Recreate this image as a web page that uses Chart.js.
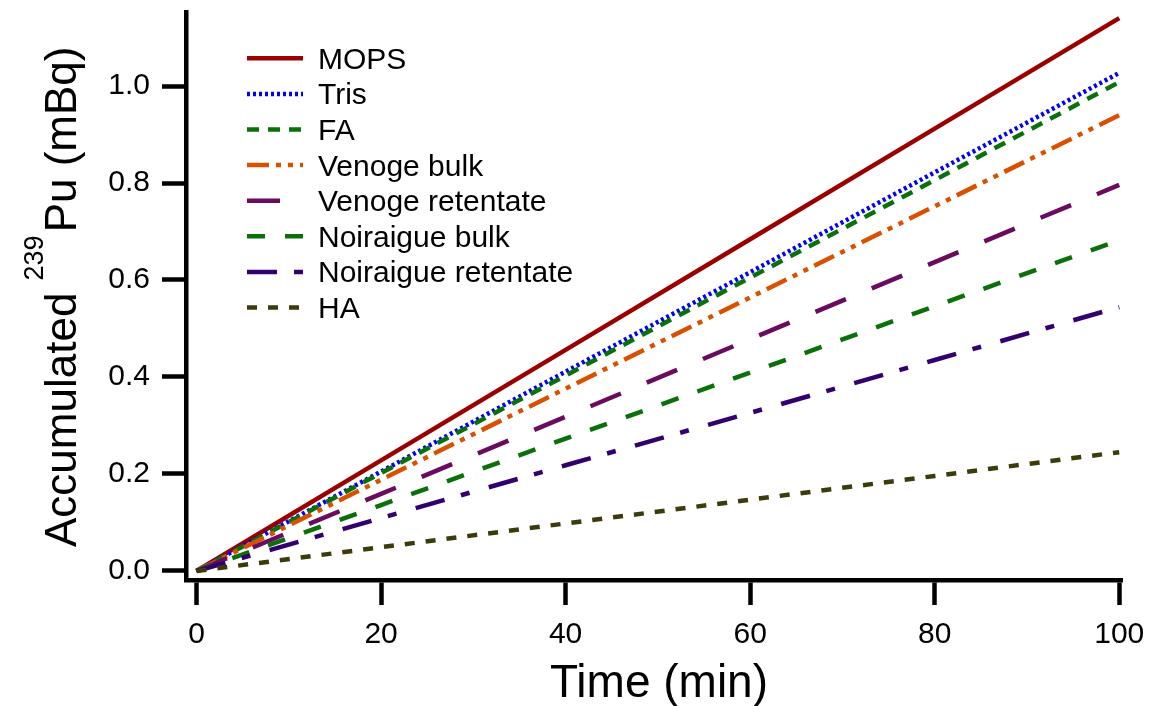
<!DOCTYPE html>
<html><head><meta charset="utf-8">
<script src="https://cdn.jsdelivr.net/npm/chart.js@4/dist/chart.umd.min.js"></script>
<style>html,body{margin:0;padding:0;background:#fff}#wrap{width:1152px;height:706px;position:relative}</style>
</head><body><div id="wrap"><canvas id="c" width="1152" height="706"></canvas></div>
<script>
const FONT = '"Liberation Sans", Arial, sans-serif';

// ---- data ----
const timeMin = [0, 20, 40, 60, 80, 100];
const seriesNames = ['MOPS', 'Tris', 'FA', 'Venoge bulk', 'Venoge retentate', 'Noiraigue bulk', 'Noiraigue retentate', 'HA'];
const mops        = [0, 0.228, 0.456, 0.684, 0.912, 1.140];
const tris        = [0, 0.205, 0.411, 0.616, 0.822, 1.027];
const fa          = [0, 0.202, 0.403, 0.605, 0.806, 1.008];
const venogeBulk  = [0, 0.188, 0.376, 0.564, 0.752, 0.940];
const venogeRet   = [0, 0.159, 0.318, 0.478, 0.637, 0.796];
const noirBulk    = [0, 0.136, 0.273, 0.409, 0.546, 0.682];
const noirRet     = [0, 0.109, 0.218, 0.326, 0.435, 0.544];
const ha          = [0, 0.049, 0.098, 0.147, 0.196, 0.245];
const xTickValues = [0, 20, 40, 60, 80, 100];
const xTickLabels = ['0', '20', '40', '60', '80', '100'];
const yTickValues = [0, 0.2, 0.4, 0.6, 0.8, 1.0];
const yTickLabels = ['0.0', '0.2', '0.4', '0.6', '0.8', '1.0'];

const seriesValues = [mops, tris, fa, venogeBulk, venogeRet, noirBulk, noirRet, ha];
const styles = [
  {c: '#9b0000', d: []},
  {c: '#0000ff', d: [3, 3]},
  {c: '#0a700a', d: [12, 9]},
  {c: '#d95000', d: [22, 7, 5, 7, 5, 7]},
  {c: '#6b0b5f', d: [33, 28]},
  {c: '#0a700a', d: [18, 20]},
  {c: '#330070', d: [30, 17, 9, 20]},
  {c: '#3b3b0b', d: [10, 11]}
];

const datasets = seriesNames.map((name, i) => ({
  label: name,
  data: timeMin.map((t, k) => ({x: t, y: seriesValues[i][k]})),
  borderColor: styles[i].c,
  backgroundColor: styles[i].c,
  borderDash: styles[i].d,
  borderWidth: 4.5,
  pointRadius: 0,
  fill: false,
  tension: 0,
  order: seriesNames.length - i
}));

const decor = {
  id: 'decor',
  afterDraw(chart) {
    const ctx = chart.ctx;
    // legend
    chart.data.datasets.forEach((ds, i) => {
      const y = 58.3 + i * 35.6;
      ctx.save();
      ctx.strokeStyle = ds.borderColor;
      ctx.lineWidth = ds.borderWidth;
      ctx.setLineDash(ds.borderDash || []);
      ctx.beginPath(); ctx.moveTo(247, y); ctx.lineTo(303, y); ctx.stroke();
      ctx.restore();
      ctx.save();
      ctx.fillStyle = '#000';
      ctx.font = '30px ' + FONT;
      ctx.textBaseline = 'alphabetic';
      ctx.fillText(ds.label, 318, y + 10.5);
      ctx.restore();
    });
    // x title
    ctx.save();
    ctx.fillStyle = '#000';
    ctx.font = '46px ' + FONT;
    ctx.textAlign = 'center';
    ctx.textBaseline = 'alphabetic';
    ctx.fillText('Time (min)', 659, 697);
    ctx.restore();
    // y title with superscript
    ctx.save();
    ctx.translate(76, 547);
    ctx.rotate(-Math.PI / 2);
    ctx.fillStyle = '#000';
    const big = '44px ' + FONT, small = '27px ' + FONT;
    ctx.font = big; const w1 = ctx.measureText('Accumulated ').width;
    ctx.font = small; const w2 = ctx.measureText('239').width;
    ctx.textBaseline = 'alphabetic';
    ctx.font = big; ctx.fillText('Accumulated ', 0, 0);
    ctx.font = small; ctx.fillText('239', w1, -33);
    ctx.font = big; ctx.fillText('Pu (mBq)', w1 + w2 + 3, 0);
    ctx.restore();
  }
};

new Chart(document.getElementById('c'), {
  type: 'line',
  data: {datasets},
  options: {
    responsive: false,
    animation: false,
    devicePixelRatio: 1,
    layout: {padding: {left: 0, top: 12, right: 30, bottom: 0}},
    plugins: {legend: {display: false}, tooltip: {enabled: false}, title: {display: false}},
    scales: {
      x: {
        type: 'linear', min: -1.14, max: 100.3, bounds: 'data',
        grid: {display: true, drawOnChartArea: false, drawTicks: true, tickLength: 25, tickWidth: 4.5, tickColor: '#000'},
        border: {display: true, width: 4.5, color: '#000'},
        ticks: {font: {family: FONT, size: 30}, color: '#000', padding: 12, maxRotation: 0, autoSkip: false,
          callback: (v) => { const k = xTickValues.indexOf(v); return k >= 0 ? xTickLabels[k] : ''; }},
        afterBuildTicks: (s) => { s.ticks = xTickValues.map(v => ({value: v})); },
        afterFit: (s) => { s.height = 126; s.paddingLeft = 0; s.paddingRight = 0; }
      },
      y: {
        type: 'linear', min: -0.0186, max: 1.1526, bounds: 'data',
        grid: {display: true, drawOnChartArea: false, drawTicks: true, tickLength: 24, tickWidth: 4.5, tickColor: '#000'},
        border: {display: true, width: 4.5, color: '#000'},
        ticks: {font: {family: FONT, size: 30}, color: '#000', padding: 12, autoSkip: false,
          callback: (v) => { const k = yTickValues.findIndex(t => Math.abs(t - v) < 1e-9); return k >= 0 ? yTickLabels[k] : ''; }},
        afterBuildTicks: (s) => { s.ticks = yTickValues.map(v => ({value: v})); },
        afterFit: (s) => { s.width = 186; s.paddingTop = 0; s.paddingBottom = 0; }
      }
    }
  },
  plugins: [decor]
});
</script></body></html>
